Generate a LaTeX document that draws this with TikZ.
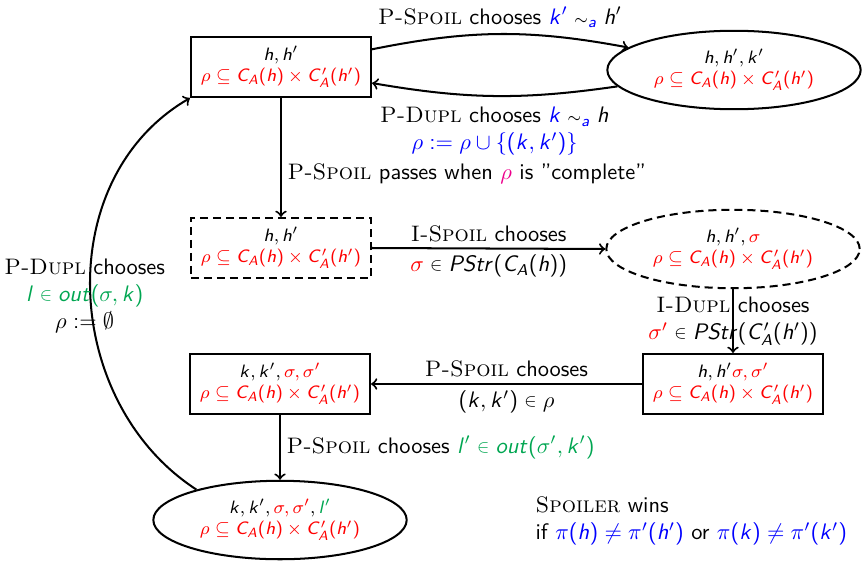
\documentclass[tikz,border=0pt]{standalone}
\usepackage{amsmath,amssymb}
\usetikzlibrary{shapes.geometric}

% sans-serif math: upright parts from cmss, letters from slanted cmss
\DeclareSymbolFont{operators}{OT1}{cmss}{m}{n}
\DeclareSymbolFont{sfslant}{OT1}{cmss}{m}{sl}
\DeclareMathSymbol{a}{\mathalpha}{sfslant}{`a}
\DeclareMathSymbol{h}{\mathalpha}{sfslant}{`h}
\DeclareMathSymbol{k}{\mathalpha}{sfslant}{`k}
\DeclareMathSymbol{l}{\mathalpha}{sfslant}{`l}
\DeclareMathSymbol{o}{\mathalpha}{sfslant}{`o}
\DeclareMathSymbol{r}{\mathalpha}{sfslant}{`r}
\DeclareMathSymbol{t}{\mathalpha}{sfslant}{`t}
\DeclareMathSymbol{u}{\mathalpha}{sfslant}{`u}
\DeclareMathSymbol{A}{\mathalpha}{sfslant}{`A}
\DeclareMathSymbol{C}{\mathalpha}{sfslant}{`C}
\DeclareMathSymbol{P}{\mathalpha}{sfslant}{`P}
\DeclareMathSymbol{S}{\mathalpha}{sfslant}{`S}

% compact membership and similarity signs
\newcommand{\smin}{\mathrel{\vcenter{\hbox{\scalebox{0.82}{$\in$}}}}}
\newcommand{\smsim}{\mathrel{\scriptstyle\sim}}

\definecolor{outgreen}{RGB}{0,166,81}
\definecolor{hotpink}{RGB}{236,0,140}

% player names in serif small caps
\newcommand{\pl}[1]{\textrm{\textsc{#1}}}
% the relation line shown in every state
\newcommand{\relline}{\textcolor{red}{$\rho\subseteq C_A(h)\times C'_A(h')$}}

\begin{document}
\begin{tikzpicture}[x=0.446pt, y=-0.446pt, line width=0.9pt, >=to,
  state/.style={draw, align=center, inner sep=1pt,
    font=\sffamily\footnotesize},
  box/.style={state, rectangle, minimum width=80.3pt, minimum height=26.8pt},
  oval/.style={state, ellipse, minimum width=113pt, minimum height=35pt},
  lbl/.style={align=center, inner sep=2.5pt, font=\sffamily},
  dsh/.style={dash pattern=on 3.6pt off 2.2pt}]

\useasboundingbox (0,0) rectangle (862,561);

% game states
\node[box] (A) at (281,67) {$h,h'$\\\relline};
\node[oval] (B) at (734,70) {$h,h',k'$\\\relline};
\node[box, dsh] (C) at (281,248) {$h,h'$\\\relline};
\node[oval, dsh] (D) at (733,249) {$h,h',\textcolor{red}{\sigma}$\\\relline};
\node[box] (E) at (733,384) {$h,h'\textcolor{red}{\sigma,\sigma'}$\\\relline};
\node[box] (F) at (280,384) {$k,k',\textcolor{red}{\sigma,\sigma'}$\\\relline};
\node[oval] (G) at (280,520) {$k,k',\textcolor{red}{\sigma,\sigma'},\textcolor{outgreen}{l'}$\\\relline};

% moves
\draw[->] (A.11) to[bend left=11]
  node[lbl, above] {\pl{P-Spoil} chooses $\textcolor{blue}{k'}\smsim_{\textcolor{blue}{a}} h'$} (B.168);
\draw[->] (B.188) to[bend left=9]
  node[lbl, below, yshift=-2pt] {\pl{P-Dupl} chooses $\textcolor{blue}{k}\smsim_{\textcolor{blue}{a}} h$\\
    \textcolor{blue}{$\rho:=\rho\cup\{(k,k')\}$}} (A.-10);
\draw[->] (A.south) -- node[lbl, right, pos=0.64]
  {\pl{P-Spoil} passes when \textcolor{hotpink}{$\rho$} is ''complete''} (C.north);
\draw[->] (C.east) -- node[lbl, above] {\pl{I-Spoil} chooses}
  node[lbl, below] {$\textcolor{red}{\sigma}\smin PStr(C_A(h))$} (D.west);
\draw[->] (D.south) -- node[lbl, pos=0.5]
  {\pl{I-Dupl} chooses\\$\textcolor{red}{\sigma'}\smin PStr(C'_A(h'))$} (E.north);
\draw[->] (E.west) -- node[lbl, above] {\pl{P-Spoil} chooses}
  node[lbl, below] {$(k,k')\smin\rho$} (F.east);
\draw[->] (F.south) -- node[lbl, right]
  {\pl{P-Spoil} chooses \textcolor{outgreen}{$l'\smin out(\sigma',k')$}} (G.north);
\draw[->] (G.160) to[out=147, in=210, looseness=1.05]
  node[lbl, pos=0.5, xshift=-2.5pt, yshift=-2pt] {\pl{P-Dupl} chooses\\
    \textcolor{outgreen}{$l\smin out(\sigma,k)$}\\ $\rho:=\emptyset$} (A.south west);

% winning condition
\node[lbl, anchor=west, align=left] (win) at (529,521)
  {\pl{Spoiler} wins\\
   if \textcolor{blue}{$\pi(h)\neq\pi'(h')$} or \textcolor{blue}{$\pi(k)\neq\pi'(k')$}};
\end{tikzpicture}
\end{document}
